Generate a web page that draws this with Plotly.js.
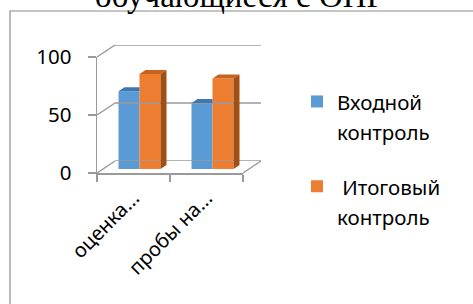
<!DOCTYPE html>
<html><head><meta charset="utf-8">
<script src="https://cdn.plot.ly/plotly-3.0.1.min.js"></script>
<style>html,body{margin:0;padding:0;background:#fff}</style>
</head><body>
<div id="chart" style="width:473px;height:304px"></div>
<script>
const categories = ['оценка...', 'пробы на...'];
const seriesNames = ['Входной<br>контроль', ' Итоговый<br>контроль'];
const entryValues = [67, 57];
const finalValues = [82, 78];
const yTicks = [0, 50, 100];
const titleText = 'обучающиеся с ОНР';

const W = 473, H = 304;
const px = p => p / W, py = p => 1 - p / H;
const gray = '#9a9a9a';
const font = 'Noto Sans, Open Sans, sans-serif';

// geometry (pixels)
const front = {x0: 97, x1: 243, y0: 173, y1: 57};
const back = {dx: 18, dy: -12};
const bar = {dx: 6, dy: -4};
const pxPerUnitY = (front.y0 - front.y1) / 100;
const pxPerCat = (front.x1 - front.x0) / categories.length;

const bargap = 0.425;
const barW = (1 - bargap) / 2;
const depthX = 6 / pxPerCat, depthY = 4 / pxPerUnitY;

const colors = {blue: '#5B9BD5', orange: '#ED7D31', blueTop: '#3F77B0', orangeTop: '#C8621C', orangeSide: '#A24F14'};

const traces = [
  {type: 'scatter', x: categories, y: [0, 0], xaxis: 'x', yaxis: 'y', mode: 'markers', marker: {opacity: 0}, showlegend: false, hoverinfo: 'skip'},
  {type: 'scatter', x: [0], y: [null], xaxis: 'x2', yaxis: 'y2', mode: 'markers', showlegend: false, hoverinfo: 'skip'},
  {type: 'bar', name: '<span style="font-size:20.5px">' + seriesNames[0] + '</span>', x: categories, y: entryValues, xaxis: 'x3', yaxis: 'y3', marker: {color: colors.blue}, legendgroup: 'a'},
  {type: 'bar', name: '<span style="font-size:20.5px">' + seriesNames[1] + '</span>', x: categories, y: finalValues, xaxis: 'x3', yaxis: 'y3', marker: {color: colors.orange}, legendgroup: 'b'}
];

const shapes = [];
// frame
shapes.push({type: 'rect', xref: 'paper', yref: 'paper', x0: px(10), x1: 1.2, y0: -0.2, y1: py(11), line: {color: '#8c8c8c', width: 1.2}});
// back wall gridlines
yTicks.forEach(v => {
  shapes.push({type: 'line', xref: 'x2 domain', yref: 'y2', x0: 0, x1: 1, y0: v, y1: v, line: {color: gray, width: 1.5}});
});
// left wall diagonals
yTicks.forEach(v => {
  const fy = front.y0 - v * pxPerUnitY;
  shapes.push({type: 'line', xref: 'paper', yref: 'paper', x0: px(front.x0), y0: py(fy), x1: px(front.x0 + back.dx), y1: py(fy + back.dy), line: {color: gray, width: 1.5}});
});
// floor right diagonal
shapes.push({type: 'line', xref: 'paper', yref: 'paper', x0: px(front.x1), y0: py(front.y0), x1: px(front.x1 + back.dx), y1: py(front.y0 + back.dy), line: {color: gray, width: 1.5}});

// 3D faces of bars
categories.forEach((c, i) => {
  const vb = entryValues[i], vo = finalValues[i];
  const bx0 = i - barW, bx1 = i;
  const bEnd = vo >= vb ? bx1 : bx1 + depthX;
  shapes.push({type: 'path', xref: 'x3', yref: 'y3', layer: 'above', line: {width: 0}, fillcolor: colors.blueTop,
    path: `M${bx0},${vb} L${bx0 + depthX},${vb + depthY} L${bEnd},${vb + depthY} L${bx1},${vb} Z`});
  const ox0 = i, ox1 = i + barW;
  shapes.push({type: 'path', xref: 'x3', yref: 'y3', layer: 'above', line: {width: 0}, fillcolor: colors.orangeTop,
    path: `M${ox0},${vo} L${ox0 + depthX},${vo + depthY} L${ox1 + depthX},${vo + depthY} L${ox1},${vo} Z`});
  shapes.push({type: 'path', xref: 'x3', yref: 'y3', layer: 'above', line: {width: 0}, fillcolor: colors.orangeSide,
    path: `M${ox1},0 L${ox1 + depthX},${depthY} L${ox1 + depthX},${vo + depthY} L${ox1},${vo} Z`});
});

const layout = {
  width: W, height: H,
  margin: {l: 0, r: 0, t: 0, b: 0},
  paper_bgcolor: '#fff', plot_bgcolor: 'rgba(0,0,0,0)',
  showlegend: true,
  barmode: 'group', bargap: bargap, bargroupgap: 0,
  xaxis: {domain: [px(front.x0), px(front.x1)], anchor: 'y', type: 'category', range: [-0.5, 1.5],
    showline: true, linecolor: gray, linewidth: 1.5, ticks: 'outside', tickson: 'boundaries', ticklen: 7, tickcolor: gray, tickwidth: 1.5,
    ticklabelstandoff: 4, tickangle: -45, tickfont: {family: font, size: 20, color: '#000'}, showgrid: false, zeroline: false, fixedrange: true},
  yaxis: {domain: [py(front.y0), py(front.y1)], anchor: 'x', range: [0, 100], tickvals: yTicks,
    showline: true, linecolor: gray, linewidth: 1.5, ticks: 'outside', ticklen: 8, tickcolor: gray, tickwidth: 1.5,
    ticklabelstandoff: 12, tickfont: {family: font, size: 20.5, color: '#000'}, showgrid: false, zeroline: false},
  xaxis2: {domain: [px(front.x0 + back.dx), px(front.x1 + back.dx)], anchor: 'y2', range: [0, 1], visible: false},
  yaxis2: {domain: [py(front.y0 + back.dy), py(front.y1 + back.dy)], anchor: 'x2', range: [0, 100], visible: false},
  xaxis3: {domain: [px(front.x0 + bar.dx), px(front.x1 + bar.dx)], anchor: 'y3', type: 'category', range: [-0.5, 1.5], visible: false},
  yaxis3: {domain: [py(front.y0 + bar.dy), py(front.y1 + bar.dy)], anchor: 'x3', range: [0, 100], visible: false},
  legend: {x: px(297), xanchor: 'left', y: py(80), yanchor: 'top', valign: 'top', traceorder: 'grouped', tracegroupgap: 22,
    font: {family: font, size: 23, color: '#000'}, bgcolor: 'rgba(0,0,0,0)'},
  shapes: shapes,
  annotations: [{text: titleText, xref: 'paper', yref: 'paper', x: px(240), xanchor: 'center', y: py(-4), yanchor: 'middle',
    showarrow: false, font: {family: 'Liberation Serif, Times New Roman, serif', size: 33, color: '#000'}}]
};

Plotly.newPlot('chart', traces, layout, {displayModeBar: false, staticPlot: true});
</script>
</body></html>
